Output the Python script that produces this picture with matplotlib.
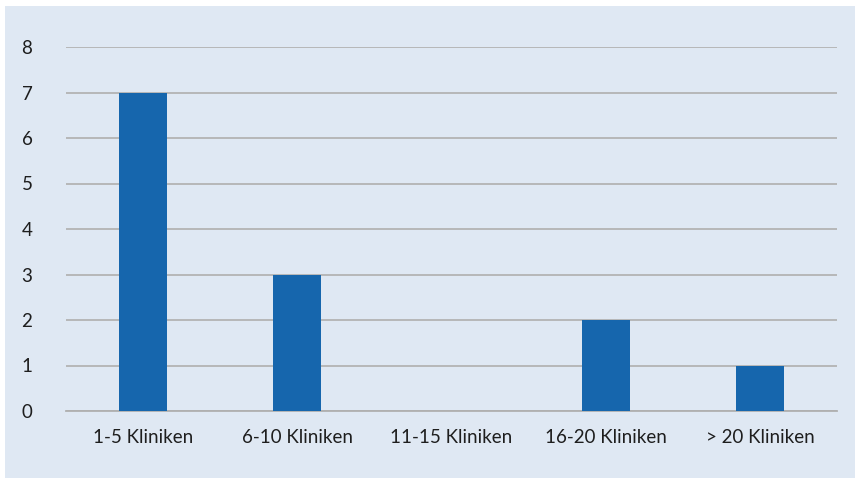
import matplotlib
matplotlib.use("Agg")
import matplotlib.pyplot as plt
from matplotlib.patches import Rectangle

categories = ["1-5 Kliniken", "6-10 Kliniken", "11-15 Kliniken", "16-20 Kliniken", "> 20 Kliniken"]
values = [7, 3, 0, 2, 1]
yticks = [0, 1, 2, 3, 4, 5, 6, 7, 8]

plt.rcParams['font.family'] = ['Lato', 'DejaVu Sans']

W, H = 855, 478
fig = plt.figure(figsize=(W / 100, H / 100), dpi=100)
fig.patch.set_facecolor('white')
bg = Rectangle((5 / W, 0), 1 - 5 / W, 1 - 6 / H, transform=fig.transFigure,
               facecolor='#dfe8f3', edgecolor='none', zorder=-10)
fig.add_artist(bg)

ax = fig.add_axes([66 / W, 1 - 411 / H, (837 - 66) / W, (411 - 47) / H])
ax.set_facecolor('none')
x = range(len(categories))
ax.bar(x, values, width=0.31, color='#1666ad', zorder=3)
ax.set_xlim(-0.5, len(categories) - 0.5)
ax.set_ylim(0, 8)
ax.set_yticks(yticks)
ax.set_xticks(list(x))
ax.set_xticklabels(categories)
ax.yaxis.grid(True, color='#b3b3b3', linewidth=1.3, zorder=1)
ax.set_axisbelow(True)
for s in ['top', 'right', 'left']:
    ax.spines[s].set_visible(False)
ax.spines['bottom'].set_color('#b0b0b0')
ax.spines['bottom'].set_linewidth(1.3)
ax.tick_params(axis='both', length=0, labelsize=13.5, colors='#1e1e1e')
ax.tick_params(axis='x', pad=13)
for lab in ax.get_yticklabels():
    lab.set_horizontalalignment('left')
ax.yaxis.set_tick_params(pad=32)

fig.savefig('out.png', dpi=100)
